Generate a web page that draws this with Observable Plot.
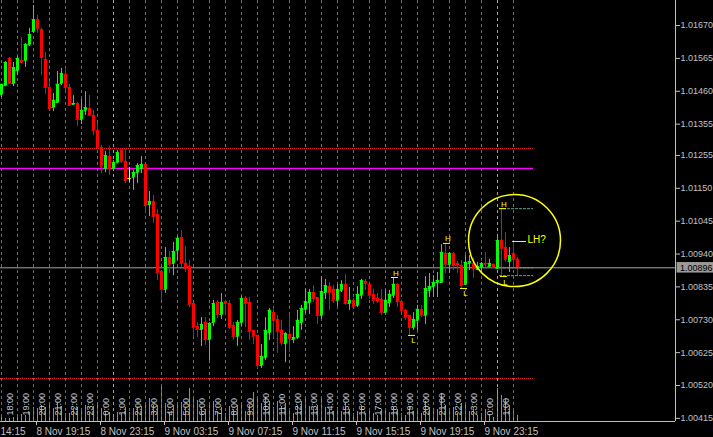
<!DOCTYPE html>
<html><head><meta charset="utf-8">
<script src="https://cdn.jsdelivr.net/npm/d3@7"></script>
<script src="https://cdn.jsdelivr.net/npm/@observablehq/plot@0.6"></script>
<style>
html,body{margin:0;padding:0;background:#000;}
#chart{position:relative;width:713px;height:437px;overflow:hidden;background:#000;}
#chart svg{position:absolute;left:0;top:0;}
</style></head><body><div id="chart"></div>
<script>
// USDCAD M15, first bar 8 Nov 17:00, bar index i
const open = [1.01450,1.01478,1.01565,1.01485,1.01526,1.01558,1.01558,1.01609,1.01651,1.01689,
1.01657,1.01562,1.01472,1.01408,1.01424,1.01485,1.01514,1.01472,1.01418,1.01421,
1.01370,1.01399,1.01405,1.01383,1.01335,1.01280,1.01213,1.01252,1.01213,1.01232,
1.01271,1.01236,1.01181,1.01185,1.01200,1.01213,1.01226,1.01098,1.01108,1.01066,
1.00884,1.00827,1.00929,1.00910,1.00951,1.00993,1.00910,1.00900,1.00782,1.00708,
1.00699,1.00721,1.00667,1.00721,1.00785,1.00747,1.00788,1.00782,1.00712,1.00677,
1.00721,1.00798,1.00785,1.00696,1.00680,1.00584,1.00609,1.00689,1.00753,1.00731,
1.00696,1.00654,1.00683,1.00667,1.00673,1.00721,1.00763,1.00785,1.00817,1.00801,
1.00744,1.00817,1.00836,1.00827,1.00792,1.00824,1.00843,1.00782,1.00792,1.00776,
1.00808,1.00852,1.00843,1.00811,1.00798,1.00795,1.00753,1.00785,1.00808,1.00843,
1.00788,1.00760,1.00744,1.00705,1.00728,1.00763,1.00744,1.00824,1.00836,1.00849,
1.00849,1.00942,1.00907,1.00942,1.00910,1.00903,1.00843,1.00910,1.00910,1.00891,
1.00897,1.00910,1.00900,1.00907,1.00894,1.00983,1.00961,1.00916,1.00942,1.00923];
const high = [1.01482,1.01555,1.01568,1.01552,1.01571,1.01632,1.01613,1.01661,1.01734,1.01702,
1.01661,1.01584,1.01491,1.01453,1.01523,1.01533,1.01533,1.01482,1.01446,1.01424,
1.01434,1.01459,1.01446,1.01399,1.01357,1.01287,1.01268,1.01284,1.01239,1.01271,
1.01274,1.01274,1.01216,1.01207,1.01229,1.01252,1.01226,1.01140,1.01127,1.01082,
1.00884,1.00961,1.00948,1.00977,1.00996,1.01015,1.00964,1.00919,1.00782,1.00721,
1.00737,1.00737,1.00721,1.00792,1.00792,1.00814,1.00792,1.00792,1.00721,1.00728,
1.00804,1.00804,1.00801,1.00696,1.00680,1.00651,1.00737,1.00766,1.00766,1.00744,
1.00728,1.00689,1.00747,1.00708,1.00760,1.00776,1.00827,1.00827,1.00839,1.00801,
1.00868,1.00859,1.00849,1.00839,1.00843,1.00855,1.00875,1.00833,1.00798,1.00836,
1.00859,1.00859,1.00843,1.00827,1.00814,1.00827,1.00824,1.00824,1.00865,1.00846,
1.00792,1.00763,1.00744,1.00753,1.00776,1.00776,1.00868,1.00878,1.00871,1.00881,
1.00970,1.00974,1.00945,1.00945,1.00916,1.00919,1.00935,1.00935,1.00926,1.00913,
1.00913,1.00945,1.00923,1.00907,1.00996,1.01085,1.01009,1.00961,1.00977,1.00929];
const low = [1.01440,1.01475,1.01482,1.01475,1.01510,1.01552,1.01536,1.01603,1.01645,1.01645,
1.01510,1.01450,1.01399,1.01395,1.01424,1.01478,1.01462,1.01415,1.01415,1.01347,
1.01354,1.01383,1.01383,1.01319,1.01280,1.01197,1.01200,1.01191,1.01207,1.01229,
1.01229,1.01165,1.01169,1.01143,1.01165,1.01197,1.01073,1.01060,1.01038,1.00855,
1.00792,1.00814,1.00878,1.00871,1.00919,1.00897,1.00881,1.00769,1.00673,1.00673,
1.00645,1.00648,1.00600,1.00708,1.00734,1.00731,1.00744,1.00699,1.00664,1.00645,
1.00708,1.00705,1.00664,1.00651,1.00574,1.00574,1.00600,1.00664,1.00673,1.00622,
1.00648,1.00593,1.00625,1.00654,1.00667,1.00696,1.00750,1.00747,1.00785,1.00715,
1.00731,1.00795,1.00760,1.00782,1.00772,1.00817,1.00776,1.00760,1.00769,1.00769,
1.00795,1.00824,1.00795,1.00779,1.00782,1.00744,1.00750,1.00769,1.00798,1.00769,
1.00753,1.00728,1.00680,1.00696,1.00696,1.00737,1.00715,1.00801,1.00801,1.00801,
1.00849,1.00878,1.00878,1.00887,1.00878,1.00830,1.00839,1.00887,1.00862,1.00887,
1.00878,1.00897,1.00897,1.00897,1.00894,1.00868,1.00913,1.00881,1.00897,1.00871];
const close = [1.01482,1.01552,1.01485,1.01536,1.01565,1.01552,1.01609,1.01641,1.01689,1.01661,
1.01568,1.01472,1.01405,1.01431,1.01482,1.01517,1.01472,1.01415,1.01421,1.01370,
1.01399,1.01408,1.01383,1.01335,1.01280,1.01220,1.01255,1.01213,1.01232,1.01264,
1.01236,1.01175,1.01181,1.01200,1.01223,1.01226,1.01095,1.01108,1.01060,1.00881,
1.00827,1.00929,1.00907,1.00948,1.00990,1.00910,1.00894,1.00779,1.00705,1.00699,
1.00715,1.00667,1.00718,1.00782,1.00747,1.00785,1.00782,1.00705,1.00677,1.00721,
1.00798,1.00782,1.00693,1.00677,1.00584,1.00613,1.00696,1.00760,1.00728,1.00693,
1.00657,1.00686,1.00670,1.00673,1.00728,1.00766,1.00788,1.00817,1.00798,1.00744,
1.00820,1.00839,1.00817,1.00792,1.00827,1.00843,1.00782,1.00792,1.00772,1.00811,
1.00855,1.00846,1.00808,1.00792,1.00788,1.00753,1.00792,1.00811,1.00843,1.00788,
1.00760,1.00737,1.00705,1.00731,1.00763,1.00744,1.00830,1.00836,1.00849,1.00855,
1.00945,1.00907,1.00942,1.00903,1.00903,1.00839,1.00913,1.00916,1.00894,1.00900,
1.00910,1.00907,1.00910,1.00897,1.00983,1.00958,1.00923,1.00935,1.00923,1.00896];
const volume = [40,30,30,40,40,70,60,90,140,130,160,140,180,130,180,150,80,80,130,140,
110,160,90,150,170,130,90,90,50,90,80,140,90,130,140,150,180,230,160,160,
340,180,90,160,180,190,130,330,240,210,
140,120,180,200,100,140,80,150,120,160,180,100,160,290,220,180,240,200,140,200,
150,180,120,80,160,200,220,150,120,160,240,140,120,100,140,100,180,120,80,100,
160,80,100,80,60,120,100,90,140,120,80,60,140,100,120,80,200,140,100,120,
280,160,120,140,80,180,160,100,120,60,80,120,60,40,330,260,220,160,100,60];

const priceTicks = [1.01670,1.01565,1.01460,1.01355,1.01255,1.01150,1.01045,1.00940,1.00835,1.00730,1.00625,1.00520,1.00415];
const timeTickIdx = [9,25,41,57,73,89,105,121];
const timeTickLabels = ["8 Nov 19:15","8 Nov 23:15","9 Nov 03:15","9 Nov 07:15","9 Nov 11:15","9 Nov 15:15","9 Nov 19:15","9 Nov 23:15"];
const firstLabel = "14:15";
const hourIdx = [0,4,8,12,16,20,24,28,32,36,40,44,48,52,56,60,64,68,72,76,80,84,88,92,96,100,104,108,112,116,120,124,128];
const midnightIdx = [28,124];
const hourLabels = ["18:00","19:00","20:00","21:00","22:00","23:00","0:00","1:00","2:00","3:00","4:00","5:00","6:00","7:00","8:00","9:00","10:00","11:00","12:00","13:00","14:00","15:00","16:00","17:00","18:00","19:00","20:00","21:00","22:00","23:00","0:00","1:00"];
const hourLabelIdx = hourIdx.slice(1);
const redLevels = [1.01277, 1.00542];
const magentaLevels = [1.01213];
const levelEndIdx = 133;
const currentPrice = 1.00896;
const zoneLevels = [1.01085, 1.00896, 1.00871];
const highMarks = [98, 111, 125];
const lowMarks = [102, 115, 125];
const lhMark = {i: 128, price: 1.00980, text: "LH?"};
const circleMark = {i: 128.25, price: 1.00983};

const data = open.map((o, i) => ({i, open: o, high: high[i], low: low[i], close: close[i], volume: volume[i]}));
const col = d => d.close > d.open ? "#00ff00" : d.close < d.open ? "#ff0000" : "#ffff00";
const X = {type: "linear", domain: [-0.25, 168.5]};
const Y = [1.00405, 1.01750];
const font = "'Liberation Sans', Arial, sans-serif";
const common = {width: 713, height: 437, marginLeft: 0, marginRight: 38, marginTop: 0, marginBottom: 16};

const vol = Plot.plot({
  ...common,
  style: {background: "transparent"},
  x: {...X, axis: null},
  y: {domain: [0, 400], range: [421, 381], axis: null},
  marks: [
    Plot.ruleX(data, {x: "i", y1: 0, y2: "volume", stroke: "#32cd32", strokeWidth: 1})
  ]
});

const yellow = "#ffff00";
const main = Plot.plot({
  ...common,
  style: {background: "transparent", fontFamily: font},
  x: X,
  y: {domain: Y},
  marks: [
    Plot.ruleX(hourIdx.filter(h => !midnightIdx.includes(h)), {stroke: "#587474", strokeDasharray: "3,3"}),
    Plot.ruleX(midnightIdx, {stroke: "#9aa4a4", strokeDasharray: "3,3"}),
    Plot.ruleY(redLevels, {x1: X.domain[0], x2: levelEndIdx, stroke: "#ff2a3a", strokeDasharray: "1,1"}),
    Plot.ruleY(magentaLevels, {x1: X.domain[0], x2: levelEndIdx, stroke: "#ff00ff", strokeWidth: 1.5}),
    Plot.ruleY([currentPrice], {stroke: "#a0a6ac"}),
    // candles
    Plot.ruleX(data, {x: "i", y1: "low", y2: "high", stroke: col}),
    Plot.ruleX(data, {x: "i", y1: "open", y2: "close", stroke: col, strokeWidth: 3}),
    Plot.ruleY(data, {y: "close", x1: d => d.i - 0.375, x2: d => d.i + 0.375, stroke: col}),
    Plot.ruleY(data, {y: "open", x1: d => d.i - 0.375, x2: d => d.i + 0.375, stroke: col}),
    // zone lines near the end
    Plot.ruleY(zoneLevels, {x1: 124.5, x2: levelEndIdx, stroke: "#5f9f86", strokeDasharray: "3,1"}),
    // H / L marks
    Plot.ruleY(highMarks, {y: i => high[i], x1: i => i - 0.5, x2: i => i + 1.25, stroke: yellow}),
    Plot.ruleY(lowMarks, {y: i => low[i], x1: i => i - 0.25, x2: i => i + 1.5, stroke: yellow}),
    Plot.text(highMarks, {x: i => i + 0.6, y: i => high[i], text: () => "H", fill: yellow, fontSize: 8, lineAnchor: "bottom", dy: -2}),
    Plot.text(lowMarks, {x: i => i + 1, y: i => low[i], text: () => "L", fill: yellow, fontSize: 8, lineAnchor: "bottom", dy: 8}),
    Plot.ruleY([lhMark], {y: "price", x1: d => d.i - 0.25, x2: d => d.i + 3.25, stroke: yellow}),
    Plot.text([lhMark], {x: d => d.i + 3.5, y: "price", text: "text", fill: yellow, fontSize: 10, textAnchor: "start", lineAnchor: "bottom", dy: 1}),
    Plot.dot([circleMark], {x: "i", y: "price", r: 46, stroke: yellow, strokeWidth: 1.5, fill: "none"}),
    // rotated hour labels
    Plot.text(hourLabels, {x: (d, k) => hourLabelIdx[k], frameAnchor: "bottom", text: d => d, rotate: -90, textAnchor: "start", dx: -5, dy: -6, fontSize: 9, fill: "#c0c8dc"}),
    // frame
    Plot.ruleX([X.domain[1]], {stroke: "#c0c0c0"}),
    Plot.ruleY([Y[0]], {stroke: "#c0c0c0"}),
    // current price box
    Plot.rect([currentPrice], {x1: 168.9, x2: 180, y1: d => d - 0.000168, y2: d => d + 0.000168, fill: "#9a9a9a"}),
    Plot.text([currentPrice], {x: 169.6, y: d => d, text: d => d.toFixed(5), fill: "#000", fontSize: 9, textAnchor: "start"}),
    // axes
    Plot.axisY(priceTicks, {anchor: "right", tickSize: 4, tickPadding: 1, tickFormat: d => d.toFixed(5), fontSize: 9, stroke: "#c0c0c0", fill: "#c0c0c0", label: null}),
    Plot.axisX(timeTickIdx, {anchor: "bottom", tickSize: 4, tickPadding: 2, textAnchor: "start", dx: -1, tickFormat: d => timeTickLabels[timeTickIdx.indexOf(d)], fontSize: 10, stroke: "#c0c0c0", fill: "#c0c0c0", label: null}),
    Plot.text([firstLabel], {frameAnchor: "bottom-left", text: d => d, textAnchor: "start", lineAnchor: "bottom", dy: 13, fontSize: 10, fill: "#c0c0c0"})
  ]
});

const chart = document.getElementById("chart");
chart.appendChild(vol);
chart.appendChild(main);
</script></body></html>
